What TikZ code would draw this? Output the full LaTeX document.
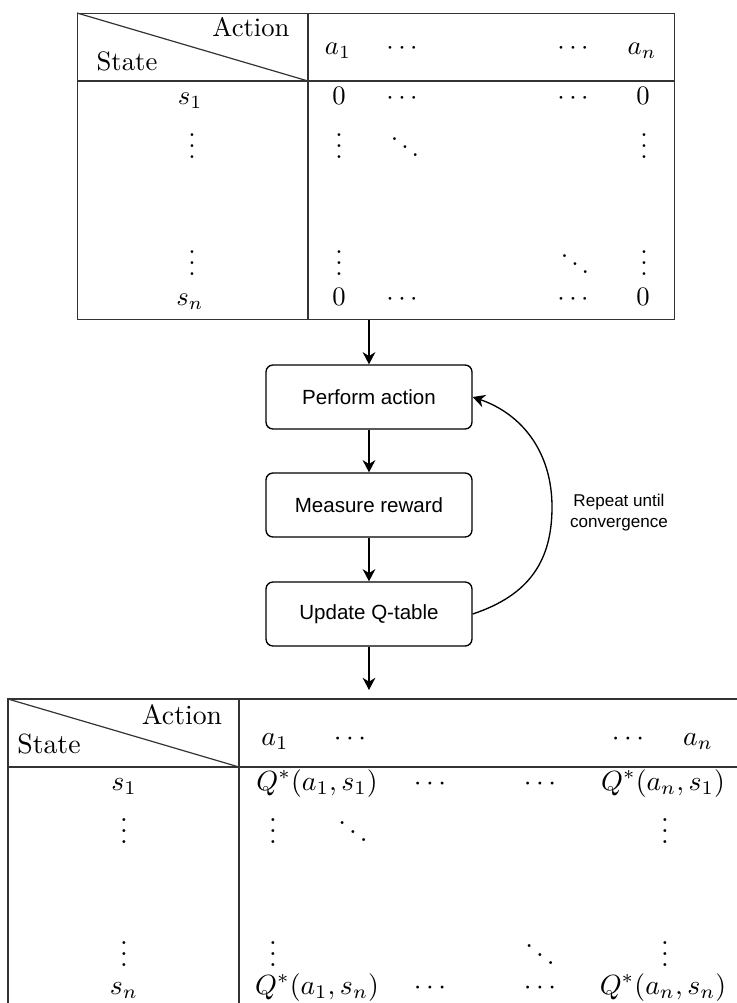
\documentclass[tikz,border=0pt]{standalone}
\usepackage{fontspec}
\newfontfamily\flowfont{Liberation Sans}
\usetikzlibrary{arrows.meta}
% dot groups boxed tightly round their dots
\newcommand\vdotsq{\vbox{\baselineskip4pt\lineskiplimit0pt\hbox{.}\hbox{.}\hbox{.}}}
\newcommand\ddotsq{\hbox{\kern0.55pt\raise7pt\hbox{.}\kern1.1pt\raise4pt\hbox{.}\kern1.1pt\raise1pt\hbox{.}\kern0.55pt}}
\begin{document}
\begin{tikzpicture}[x=0.375pt,y=-0.375pt,
  grid/.style={draw=black!80,line width=0.45pt},
  cell/.style={inner sep=0pt,anchor=base},
  dotcell/.style={inner sep=0pt,anchor=center},
  bcell/.style={cell,scale=1.04},
  bdotcell/.style={dotcell,scale=1.04},
  stepbox/.style={draw,line width=0.5pt,rounded corners=2.6pt,
    minimum width=77.25pt,minimum height=24pt,inner sep=0pt,
    font=\flowfont\fontsize{7.7}{9}\selectfont},
  flow/.style={line width=0.5pt,-{Stealth[length=4.6pt,width=4.8pt]}},
  note/.style={inner sep=0pt,align=center,
    font=\flowfont\fontsize{6.4}{7.9}\selectfont}]
\useasboundingbox (0,0) rectangle (737,1003);

% ---------- initial Q-table ----------
\node[grid,draw,inner sep=0pt,anchor=north west,
  minimum width=223.875pt,minimum height=114.75pt] (qinit) at (77,13) {};
\draw[grid] (308,13) -- (308,319);
\draw[grid] (77,81) -- (674,81);
\draw[grid] (77,13) -- (308,81);
\node[cell] (ia) at (251,37) {Action};
\node[cell] (is) at (127,70) {State};
% header row
\node[cell] (ih1) at (338,54) {$a_1$};
\node[cell] (ih2) at (402,54) {$\cdots$};
\node[cell] (ih3) at (573,54) {$\cdots$};
\node[cell] (ih4) at (642,54) {$a_n$};
% first row
\node[cell] (ir1) at (190,104) {$s_1$};
\node[cell] (ir1a) at (339,104) {$0$};
\node[cell] (ir1b) at (402,104) {$\cdots$};
\node[cell] (ir1c) at (573,104) {$\cdots$};
\node[cell] (ir1d) at (643,104) {$0$};
% dotted rows
\node[dotcell] (iv1) at (192,146) {\vdotsq};
\node[dotcell] (iv2) at (339,146) {\vdotsq};
\node[dotcell] (iv3) at (405,148) {\ddotsq};
\node[dotcell] (iv4) at (644,146) {\vdotsq};
\node[dotcell] (iw1) at (192,263) {\vdotsq};
\node[dotcell] (iw2) at (339,263) {\vdotsq};
\node[dotcell] (iw3) at (575,265) {\ddotsq};
\node[dotcell] (iw4) at (644,263) {\vdotsq};
% last row
\node[cell] (irn) at (190,305) {$s_n$};
\node[cell] (irna) at (339,305) {$0$};
\node[cell] (irnb) at (402,305) {$\cdots$};
\node[cell] (irnc) at (573,305) {$\cdots$};
\node[cell] (irnd) at (643,305) {$0$};

% ---------- learning loop ----------
\node[stepbox] (pa) at (369,397) {Perform action};
\node[stepbox] (mr) at (369,505) {Measure reward};
\node[stepbox] (uq) at (369,614) {Update Q-table};
\coordinate (out) at (369,690);

\draw[flow] (pa.north |- qinit.south) -- (pa.north);
\draw[flow] (pa.south) -- (mr.north);
\draw[flow] (mr.south) -- (uq.north);
\draw[flow] (uq.south) -- (out);
\draw[flow] (uq.east) .. controls (530,595) and (552,560) .. (552,507)
  .. controls (552,452) and (522,414) .. (pa.east);
\node[note] (rep) at (619,513) {Repeat until\\convergence};

% ---------- learned Q-table ----------
\draw[grid] (737,699) -- (8,699) -- (8,1003);
\draw[grid] (239,699) -- (239,1003);
\draw[grid] (8,767) -- (737,767);
\draw[grid] (8,699) -- (239,767);
\node[bcell] (fa) at (182,724) {Action};
\node[bcell] (fs) at (49,753) {State};
% header row
\node[bcell] (fh1) at (275,745) {$a_1$};
\node[bcell] (fh2) at (350,745) {$\cdots$};
\node[bcell] (fh3) at (628,745) {$\cdots$};
\node[bcell] (fh4) at (698,745) {$a_n$};
% first row
\node[bcell] (fr1) at (124,790) {$s_1$};
\node[bcell] (fr1a) at (317,790) {$Q^*(a_1,s_1)$};
\node[bcell] (fr1b) at (430,790) {$\cdots$};
\node[bcell] (fr1c) at (540,790) {$\cdots$};
\node[bcell] (fr1d) at (663,790) {$Q^*(a_n,s_1)$};
% dotted rows
\node[bdotcell] (fv1) at (124,831) {\vdotsq};
\node[bdotcell] (fv2) at (273,831) {\vdotsq};
\node[bdotcell] (fv3) at (353,833) {\ddotsq};
\node[bdotcell] (fv4) at (665,831) {\vdotsq};
\node[bdotcell] (fw1) at (124,954) {\vdotsq};
\node[bdotcell] (fw2) at (273,954) {\vdotsq};
\node[bdotcell] (fw3) at (540,956) {\ddotsq};
\node[bdotcell] (fw4) at (665,954) {\vdotsq};
% last row
\node[bcell] (frn) at (124,994) {$s_n$};
\node[bcell] (frna) at (317,994) {$Q^*(a_1,s_n)$};
\node[bcell] (frnb) at (430,994) {$\cdots$};
\node[bcell] (frnc) at (540,994) {$\cdots$};
\node[bcell] (frnd) at (663,994) {$Q^*(a_n,s_n)$};
\end{tikzpicture}
\end{document}
